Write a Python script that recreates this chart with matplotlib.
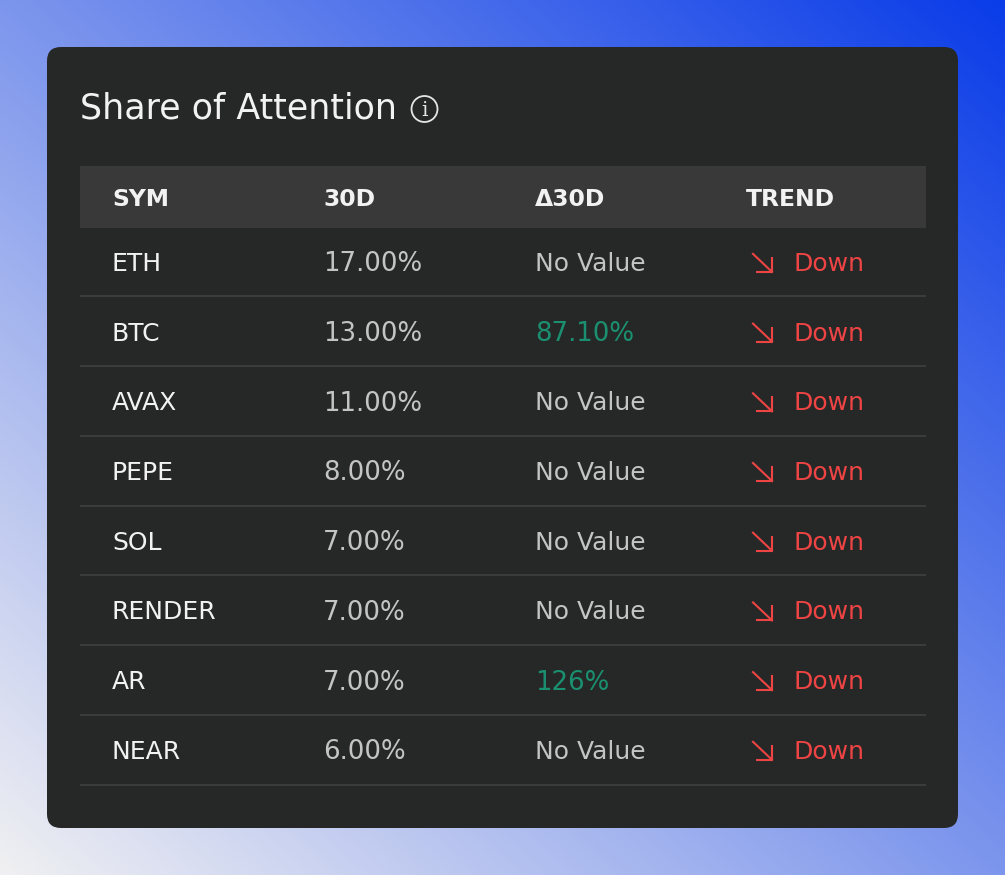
#!/usr/bin/env python3
"""Share of Attention table card on a gradient background."""

import numpy as np
import matplotlib.pyplot as plt
from matplotlib.colors import LinearSegmentedColormap
from matplotlib.patches import FancyBboxPatch, Rectangle, Circle

symbols = ['ETH', 'BTC', 'AVAX', 'PEPE', 'SOL', 'RENDER', 'AR', 'NEAR']
share_30d = ['17.00%', '13.00%', '11.00%', '8.00%', '7.00%', '7.00%', '7.00%', '6.00%']
delta_30d = ['No Value', '87.10%', 'No Value', 'No Value', 'No Value', 'No Value', '126%', 'No Value']
trend = ['Down'] * 8
headers = ['SYM', '30D', 'Δ30D', 'TREND']

W, H = 1005, 875
FONT = 'DejaVu Sans'
CARD = '#262827'
RED = '#ef4444'
GREEN = '#1a9070'
GREY = '#c4c4c4'
WHITE = '#f2f2f2'
PX = 72 / 100  # px to pt at dpi 100

col_x = [112, 323, 535, 746]
header_top, header_bottom = 166, 228
row_h = 69.7

plt.rcParams['font.family'] = [FONT]

fig = plt.figure(figsize=(W / 100, H / 100), dpi=100)
ax = fig.add_axes([0, 0, 1, 1])
ax.set_xlim(0, W)
ax.set_ylim(H, 0)
ax.axis('off')

# background gradient, bottom left to top right
cmap = LinearSegmentedColormap.from_list('bg', ['#f0f0f2', '#0a3ce8'])
gx, gy = np.meshgrid(np.linspace(0, 1, 300), np.linspace(0, 1, 300))
ax.imshow(0.5 * (gx + 1 - gy), cmap=cmap, extent=(0, W, H, 0), aspect='auto', zorder=0)

ax.add_patch(FancyBboxPatch((47, 47), 911, 781, boxstyle='round,pad=0,rounding_size=14',
                            fc=CARD, ec='none', zorder=1))
ax.add_patch(Rectangle((80, header_top), 846, header_bottom - header_top,
                       fc='#393939', ec='none', zorder=2))

ax.text(80, 105, 'Share of Attention', color=WHITE, fontsize=34.9 * PX, va='center_baseline', zorder=3)

# info icon
ax.add_patch(Circle((424.5, 109), 13, fc='none', ec='#e6e6e6', lw=1.3, zorder=3))
ax.text(424.5, 110, 'i', color='#e6e6e6', fontsize=20 * PX, family='DejaVu Serif',
        ha='center', va='center', zorder=3)

for x, label in zip(col_x, headers):
    ax.text(x, 197, label, color=WHITE, fontsize=23.5 * PX, fontweight='bold',
            va='center_baseline', zorder=3)

for i, sym in enumerate(symbols):
    y = 261.4 + row_h * i
    line_y = 226.5 + 69.75 * (i + 1)
    ax.plot([80, 926], [line_y, line_y], color='#3d3f3e', lw=1.3, solid_capstyle='butt', zorder=2)

    ax.text(col_x[0], y, sym, color=WHITE, fontsize=25 * PX, va='center_baseline', zorder=3)
    ax.text(col_x[1], y, share_30d[i], color=GREY, fontsize=26 * PX, va='center_baseline', zorder=3)
    is_empty = delta_30d[i] == 'No Value'
    ax.text(col_x[2], y, delta_30d[i], color=GREY if is_empty else GREEN,
            fontsize=25 * PX if is_empty else 26 * PX, va='center_baseline', zorder=3)

    # down arrow icon, then the label
    ax.plot([753, 772], [y - 7.5, y + 10.5], color=RED, lw=1.5, zorder=3)
    ax.plot([757, 772, 772], [y + 10.5, y + 10.5, y - 3.5], color=RED, lw=1.5, zorder=3)
    ax.text(794, y, trend[i], color=RED, fontsize=25 * PX, va='center_baseline', zorder=3)

fig.savefig('out.png', dpi=100)
